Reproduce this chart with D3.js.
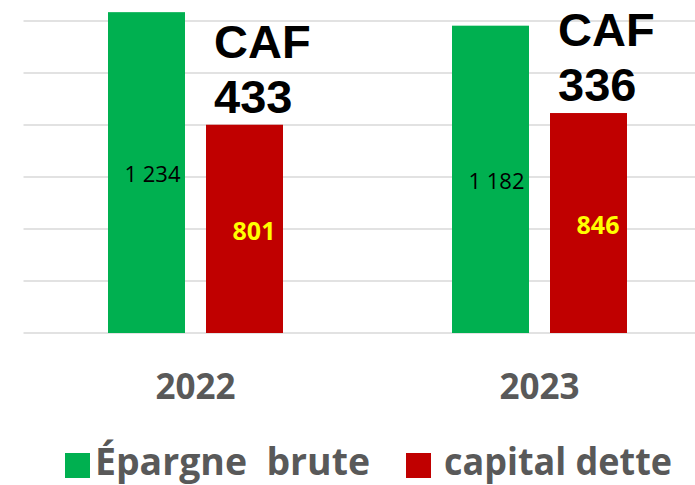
<!DOCTYPE html>
<html>
<head>
<meta charset="utf-8">
<script src="https://cdn.jsdelivr.net/npm/d3@7"></script>
<style>
  body { margin: 0; background: #fff; }
  svg { display: block; }
</style>
</head>
<body>
<svg id="chart"></svg>
<script>
var years = ['2022', '2023'];
var series = ['Épargne  brute', 'capital dette'];
var epargneBrute = [1234, 1182];
var capitalDette = [801, 846];
var cafValues = [433, 336];
var gridTicks = [0, 200, 400, 600, 800, 1000, 1200];

var colors = ['#00b050', '#c00000'];
var labelColors = ['#000000', '#ffff00'];

var options = {
    width: 695,
    height: 485,
    plotLeft: 23.5,
    plotRight: 711.5,
    baseline: 333,
    top: 21,
    groupWidth: 175
};

var svg = d3.select('#chart')
    .attr('width', options.width)
    .attr('height', options.height);

var y = d3.scaleLinear().domain([0, 1200]).range([options.baseline, options.top]);

var x0 = d3.scaleBand().domain(years).range([options.plotLeft, options.plotRight]);
var pad = (x0.bandwidth() - options.groupWidth) / 2;
var x1 = d3.scaleBand().domain(series)
    .range([pad, pad + options.groupWidth])
    .paddingInner(21 / 98);

// gridlines
svg.append('g').attr('class', 'grid')
    .selectAll('line')
    .data(gridTicks)
    .enter().append('line')
    .attr('x1', options.plotLeft)
    .attr('x2', options.width)
    .attr('y1', function(d){ return y(d); })
    .attr('y2', function(d){ return y(d); })
    .style('stroke', '#d9d9d9')
    .style('stroke-width', 1.5);

var rows = years.map(function(yr, i){
    return {
        year: yr,
        values: [epargneBrute[i], capitalDette[i]],
        caf: cafValues[i]
    };
});

var groups = svg.selectAll('.year-group')
    .data(rows)
    .enter().append('g')
    .attr('class', 'year-group')
    .attr('transform', function(d){ return 'translate(' + x0(d.year) + ',0)'; });

var bars = groups.selectAll('.bar')
    .data(function(d){
        return d.values.map(function(v, j){ return {key: series[j], value: v, idx: j}; });
    })
    .enter();

bars.append('rect')
    .attr('class', 'bar')
    .attr('x', function(d){ return x1(d.key); })
    .attr('y', function(d){ return y(d.value); })
    .attr('width', x1.bandwidth())
    .attr('height', function(d){ return options.baseline - y(d.value); })
    .style('fill', function(d){ return colors[d.idx]; });

var fmt = function(v){ return d3.format(',')(v).replace(',', ' '); };

bars.append('text')
    .attr('x', function(d){ return x1(d.key) + x1.bandwidth() / 2 + (d.idx === 0 ? 6 : 9.5); })
    .attr('y', function(d){ return (y(d.value) + options.baseline) / 2 + 2; })
    .attr('dy', '0.35em')
    .style('text-anchor', 'middle')
    .style('font-family', '"Open Sans", sans-serif')
    .style('font-size', function(d){ return d.idx === 0 ? '22px' : '25px'; })
    .style('font-weight', function(d){ return d.idx === 0 ? 'normal' : 'bold'; })
    .style('fill', function(d){ return labelColors[d.idx]; })
    .text(function(d){ return fmt(d.value); });

// CAF annotation above the red bar
var caf = groups.append('text')
    .style('font-family', '"Liberation Sans", Arial, sans-serif')
    .style('font-weight', 'bold')
    .style('font-size', '47px')
    .style('fill', '#000');
caf.append('tspan')
    .attr('x', function(d){ return x1(series[1]) + 8; })
    .attr('y', function(d){ return y(d.values[1]) - 67; })
    .text('CAF');
caf.append('tspan')
    .attr('x', function(d){ return x1(series[1]) + 8; })
    .attr('y', function(d){ return y(d.values[1]) - 12; })
    .text(function(d){ return d.caf; });

// x axis labels
groups.append('text')
    .attr('x', x0.bandwidth() / 2)
    .attr('y', 399)
    .style('text-anchor', 'middle')
    .style('font-family', '"Open Sans", sans-serif')
    .style('font-weight', 'bold')
    .style('font-size', '35px')
    .style('fill', '#595959')
    .text(function(d){ return d.year; });

// legend
var legendX = [65, 406];
var legendW = [275, 228];
var legend = svg.selectAll('.legend')
    .data(series)
    .enter().append('g')
    .attr('class', 'legend')
    .attr('transform', function(d, i){ return 'translate(' + legendX[i] + ',453)'; });

legend.append('rect')
    .attr('width', 25)
    .attr('height', 25)
    .style('fill', function(d, i){ return colors[i]; });

legend.append('text')
    .attr('x', function(d, i){ return i === 0 ? 30 : 38; })
    .attr('y', 22)
    .attr('textLength', function(d, i){ return legendW[i]; })
    .attr('lengthAdjust', 'spacingAndGlyphs')
    .style('white-space', 'pre')
    .style('font-family', '"Open Sans", sans-serif')
    .style('font-weight', 'bold')
    .style('font-size', '38px')
    .style('fill', '#595959')
    .text(function(d){ return d; });
</script>
</body>
</html>
